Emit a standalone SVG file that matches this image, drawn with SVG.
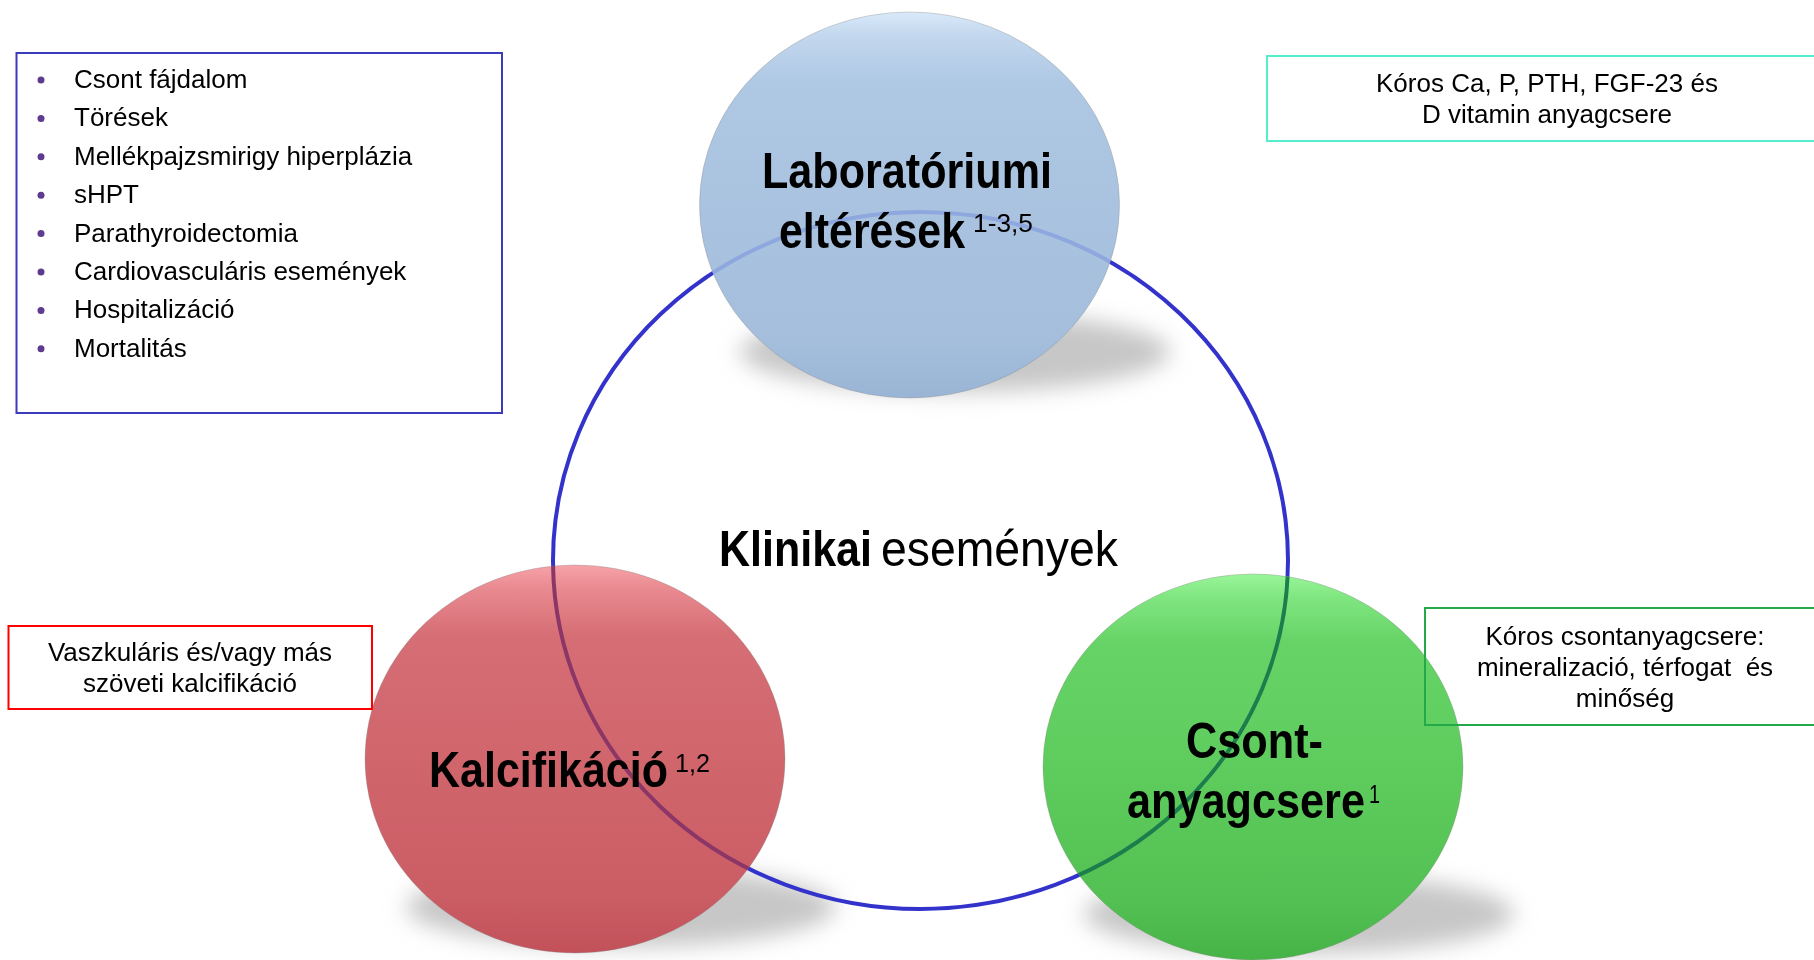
<svg xmlns="http://www.w3.org/2000/svg" width="1814" height="960" viewBox="0 0 1814 960">
<defs>
<style>
.box text{font-family:'Liberation Sans',Arial,sans-serif;font-size:26px;fill:#000}
.ctr{text-anchor:middle}
.lbl{font-family:'Liberation Sans Narrow','Arial Narrow','Liberation Sans',sans-serif;font-size:50px;font-weight:bold;fill:#000}
.reg{font-weight:normal}
.sup{font-family:'Liberation Sans Narrow','Arial Narrow','Liberation Sans',sans-serif;font-size:26px;font-weight:normal;fill:#000}
.rim{stroke:#8a8a8a;stroke-opacity:0.35;stroke-width:1}
.shadow{fill:#b4b4b4;opacity:0.75}
.ring{fill:none;stroke:#3333cc;stroke-width:4}
.dot{fill:#5e3b8f}
</style>
<filter id="blur" x="-30%" y="-150%" width="160%" height="400%"><feGaussianBlur stdDeviation="11"/></filter>
<linearGradient id="gBlue" x1="0" y1="0" x2="0" y2="1">
<stop offset="0" stop-color="#d9e9f9"/><stop offset="0.06" stop-color="#c3d8ee"/><stop offset="0.18" stop-color="#afc8e4"/><stop offset="0.55" stop-color="#a8c2df"/><stop offset="0.85" stop-color="#a4bedc"/><stop offset="1" stop-color="#9ab4d5"/>
</linearGradient>
<linearGradient id="gRed" x1="0" y1="0" x2="0" y2="1">
<stop offset="0" stop-color="#f6a3a8"/><stop offset="0.06" stop-color="#e98a90"/><stop offset="0.18" stop-color="#d66e75"/><stop offset="0.55" stop-color="#d0646b"/><stop offset="0.85" stop-color="#cb5d65"/><stop offset="1" stop-color="#c2515a"/>
</linearGradient>
<linearGradient id="gGreen" x1="0" y1="0" x2="0" y2="1">
<stop offset="0" stop-color="#9af59a"/><stop offset="0.06" stop-color="#80e680"/><stop offset="0.18" stop-color="#66d366"/><stop offset="0.55" stop-color="#5ccb5c"/><stop offset="0.85" stop-color="#52c052"/><stop offset="1" stop-color="#46b346"/>
</linearGradient>
<clipPath id="cBlue"><ellipse cx="909.5" cy="205" rx="210" ry="193"/></clipPath>
<clipPath id="cRed"><ellipse cx="575" cy="759" rx="210" ry="194"/></clipPath>
<clipPath id="cGreen"><ellipse cx="1253" cy="767" rx="210" ry="193"/></clipPath>
</defs>
<rect width="1814" height="960" fill="#fff"/>

<g id="shadows" filter="url(#blur)">
<ellipse class="shadow" cx="955" cy="352" rx="215" ry="40"/>
<ellipse class="shadow" cx="621" cy="907" rx="215" ry="40"/>
<ellipse class="shadow" cx="1299" cy="914" rx="215" ry="40"/>
</g>

<g id="connectors">
<ellipse id="ring" class="ring" cx="920.5" cy="560.5" rx="367.5" ry="348.5"/>
</g>

<g id="node-lab">
<ellipse cx="909.5" cy="205" rx="210" ry="193" fill="url(#gBlue)" class="rim"/>
<ellipse clip-path="url(#cBlue)" cx="920.5" cy="560.5" rx="367.5" ry="348.5" fill="none" stroke="#8ea7de" stroke-width="4"/>
<text class="lbl" x="762" y="188" textLength="290" lengthAdjust="spacingAndGlyphs">Laboratóriumi</text>
<text class="lbl" x="779" y="248" textLength="186" lengthAdjust="spacingAndGlyphs">eltérések</text>
<text class="sup" x="973" y="232" textLength="60" lengthAdjust="spacingAndGlyphs">1-3,5</text>
</g>

<g id="node-calc">
<ellipse cx="575" cy="759" rx="210" ry="194" fill="url(#gRed)" class="rim"/>
<ellipse clip-path="url(#cRed)" cx="920.5" cy="560.5" rx="367.5" ry="348.5" fill="none" stroke="#8c3567" stroke-width="4"/>
<text class="lbl" x="429" y="787" textLength="239" lengthAdjust="spacingAndGlyphs">Kalcifikáció</text>
<text class="sup" x="675" y="772" textLength="35" lengthAdjust="spacingAndGlyphs">1,2</text>
</g>

<g id="node-bone">
<ellipse cx="1253" cy="767" rx="210" ry="193" fill="url(#gGreen)" class="rim"/>
<ellipse clip-path="url(#cGreen)" cx="920.5" cy="560.5" rx="367.5" ry="348.5" fill="none" stroke="#1d7d4d" stroke-width="4"/>
<text class="lbl" x="1186" y="758" textLength="137" lengthAdjust="spacingAndGlyphs">Csont-</text>
<text class="lbl" x="1127" y="818" textLength="238" lengthAdjust="spacingAndGlyphs">anyagcsere</text>
<text class="sup" x="1369" y="803" textLength="11" lengthAdjust="spacingAndGlyphs">1</text>
</g>

<g id="node-center">
<text class="lbl" x="719" y="566" textLength="153" lengthAdjust="spacingAndGlyphs">Klinikai</text>
<text class="lbl reg" x="881" y="566" textLength="237" lengthAdjust="spacingAndGlyphs">események</text>
</g>

<g id="box-events" class="box">
<rect x="16.5" y="53" width="485.5" height="360" fill="none" stroke="#3b3bbb" stroke-width="2"/>
<circle class="dot" cx="41" cy="80" r="3.5"/><text x="74" y="88">Csont fájdalom</text>
<circle class="dot" cx="41" cy="118.4" r="3.5"/><text x="74" y="126.4">Törések</text>
<circle class="dot" cx="41" cy="156.8" r="3.5"/><text x="74" y="164.8">Mellékpajzsmirigy hiperplázia</text>
<circle class="dot" cx="41" cy="195.2" r="3.5"/><text x="74" y="203.2">sHPT</text>
<circle class="dot" cx="41" cy="233.6" r="3.5"/><text x="74" y="241.6">Parathyroidectomia</text>
<circle class="dot" cx="41" cy="272" r="3.5"/><text x="74" y="280">Cardiovasculáris események</text>
<circle class="dot" cx="41" cy="310.4" r="3.5"/><text x="74" y="318.4">Hospitalizáció</text>
<circle class="dot" cx="41" cy="348.8" r="3.5"/><text x="74" y="356.8">Mortalitás</text>
</g>

<g id="box-lab" class="box">
<rect x="1267" y="56" width="560" height="85" fill="none" stroke="#55eecc" stroke-width="2"/>
<text class="ctr" x="1547" y="92">Kóros Ca, P, PTH, FGF-23 és</text>
<text class="ctr" x="1547" y="123">D vitamin anyagcsere</text>
</g>

<g id="box-calc" class="box">
<rect x="8.5" y="626" width="363.5" height="83" fill="none" stroke="#ff0000" stroke-width="2"/>
<text class="ctr" x="190" y="661">Vaszkuláris és/vagy más</text>
<text class="ctr" x="190" y="692">szöveti kalcifikáció</text>
</g>

<g id="box-bone" class="box">
<rect x="1425" y="608" width="400" height="117" fill="none" stroke="#22aa48" stroke-width="2"/>
<text class="ctr" x="1625" y="645">Kóros csontanyagcsere:</text>
<text class="ctr" x="1625" y="676" xml:space="preserve">mineralizació, térfogat  és</text>
<text class="ctr" x="1625" y="707">minőség</text>
</g>
</svg>
